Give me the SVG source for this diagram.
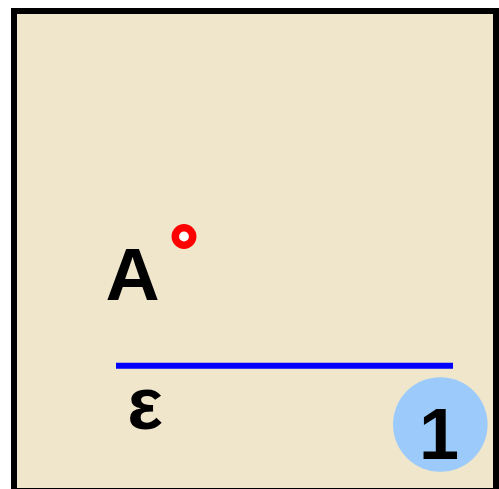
<svg xmlns="http://www.w3.org/2000/svg" width="499" height="489" viewBox="0 0 499 489">
<style>
.lbl{font-family:"Liberation Sans",Arial,sans-serif;font-weight:bold;fill:#000;text-anchor:middle}
</style>
<rect x="14" y="11" width="482" height="480" fill="#efe6cb" stroke="#000" stroke-width="6"/>
<g id="point-A">
<circle cx="184" cy="236.5" r="8.7" fill="#fff" stroke="#ff0000" stroke-width="7.5"/>
<text class="lbl" x="132.5" y="300" font-size="75">A</text>
</g>
<g id="line-epsilon">
<line x1="116" y1="365.7" x2="453" y2="365.7" stroke="#0000ff" stroke-width="6"/>
<text class="lbl" x="145" y="428.5" font-size="75">ε</text>
</g>
<g id="badge-1">
<circle cx="440.3" cy="424.5" r="47.3" fill="#9ccbfb"/>
<text class="lbl" x="439" y="459" font-size="72">1</text>
</g>
</svg>
